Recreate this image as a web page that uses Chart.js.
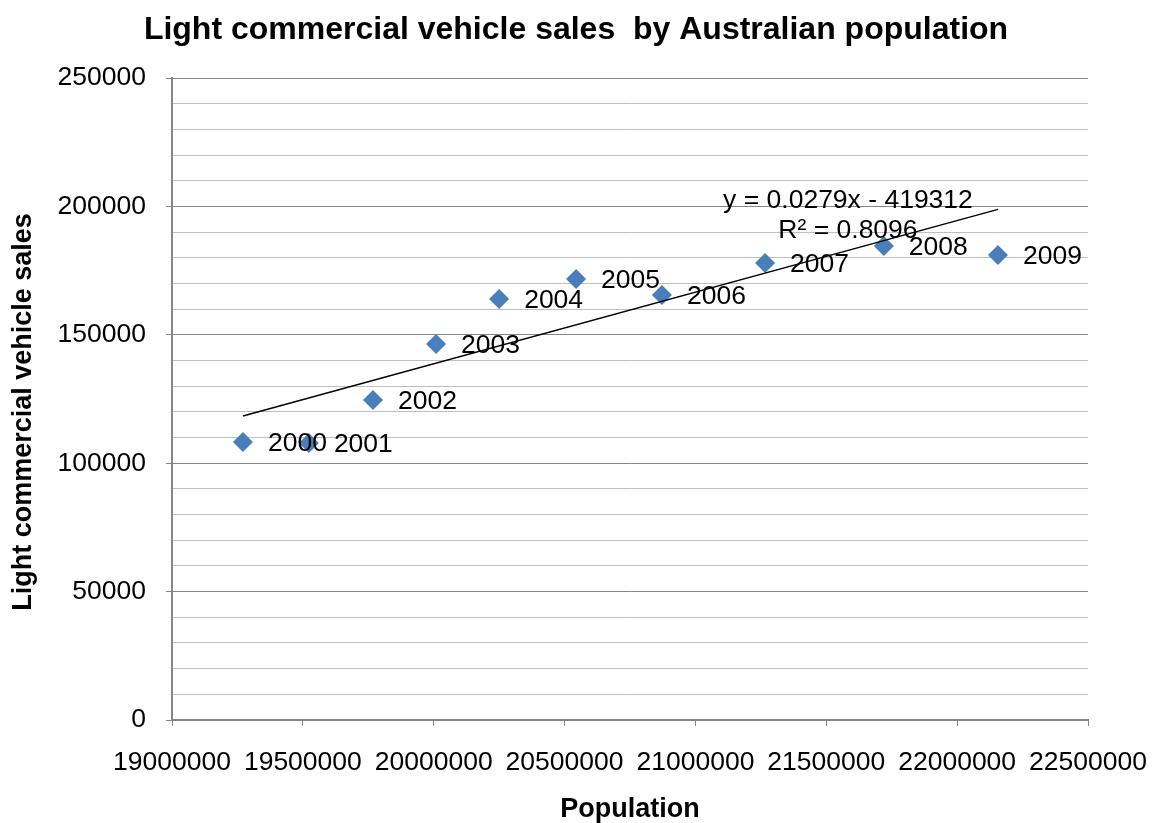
<!DOCTYPE html>
<html>
<head>
<meta charset="utf-8">
<title>Light commercial vehicle sales by Australian population</title>
<script src="https://cdn.jsdelivr.net/npm/chart.js@4.4.1/dist/chart.umd.min.js"></script>
<style>
  html, body { margin: 0; padding: 0; background: #ffffff; }
  #wrap { width: 1153px; height: 823px; }
</style>
</head>
<body>
<div id="wrap"><canvas id="chart" width="1153" height="823"></canvas></div>
<script>
// Year of each observation
const years = ['2000', '2001', '2002', '2003', '2004', '2005', '2006', '2007', '2008', '2009'];
// Australian population (x)
const population = [19271000, 19523000, 19768000, 20009000, 20250000, 20544000, 20872000, 21266000, 21720000, 22156000];
// Light commercial vehicle sales (y)
const lcvSales = [108300, 107900, 124600, 146400, 163900, 171700, 165500, 178000, 184600, 181100];

// Linear trend line as stated in its label
const trendSlope = 0.0279;
const trendIntercept = -419312;
const trendR2 = '0.8096';

// Axis ranges and steps
const xMin = 19000000, xMax = 22500000, xStep = 500000;
const yMin = 0, yMax = 250000, yMajor = 50000, yMinor = 10000;

const FONT = '"Liberation Sans", Arial, sans-serif';
const TEXT_SIZE = 26.5;

const trendX = [Math.min(...population), Math.max(...population)];
const trendPoints = trendX.map(x => ({ x: x, y: trendSlope * x + trendIntercept }));
const scatterPoints = population.map((p, i) => ({ x: p, y: lcvSales[i] }));

const majorGrid = '#868686';
const minorGrid = '#bfbfbf';

const textPlugin = {
  id: 'chartTexts',
  afterDatasetsDraw(chart) {
    const ctx = chart.ctx;
    const meta = chart.getDatasetMeta(1);
    ctx.save();
    ctx.fillStyle = '#000000';
    ctx.font = TEXT_SIZE + 'px ' + FONT;
    ctx.textAlign = 'left';
    ctx.textBaseline = 'middle';
    meta.data.forEach((pt, i) => {
      ctx.fillText(years[i], pt.x + 25, pt.y + 2);
    });

    // Trend line equation near the right end of the line
    const xs = chart.scales.x, ys = chart.scales.y;
    const ex = xs.getPixelForValue(trendPoints[1].x);
    const ey = ys.getPixelForValue(trendPoints[1].y);
    ctx.textAlign = 'center';
    const sign = trendIntercept < 0 ? ' - ' : ' + ';
    ctx.fillText('y = ' + trendSlope + 'x' + sign + Math.abs(trendIntercept), ex - 150, ey - 9);
    ctx.fillText('R\u00B2 = ' + trendR2, ex - 150, ey + 21);
    ctx.restore();
  },
  afterDraw(chart) {
    const ctx = chart.ctx;
    const area = chart.chartArea;
    ctx.save();
    ctx.fillStyle = '#000000';
    ctx.font = 'bold 32px ' + FONT;
    ctx.textAlign = 'center';
    ctx.textBaseline = 'middle';
    ctx.fillText('Light commercial vehicle sales  by Australian population', 576, 30);

    // Vertical axis title
    ctx.font = 'bold 27px ' + FONT;
    ctx.translate(24, (area.top + area.bottom) / 2 + 13);
    ctx.rotate(-Math.PI / 2);
    ctx.fillText('Light commercial vehicle sales', 0, 0);
    ctx.restore();
  }
};

new Chart(document.getElementById('chart'), {
  type: 'scatter',
  data: {
    datasets: [
      {
        label: 'Linear trend',
        data: trendPoints,
        showLine: true,
        borderColor: '#000000',
        borderWidth: 1.5,
        pointRadius: 0,
        pointHoverRadius: 0,
        fill: false,
        order: 0
      },
      {
        label: 'Light commercial vehicle sales',
        data: scatterPoints,
        pointStyle: 'rectRot',
        pointRadius: 10,
        pointHoverRadius: 10,
        backgroundColor: '#4a7ebb',
        borderColor: '#4a7ebb',
        borderWidth: 0,
        order: 1
      }
    ]
  },
  options: {
    responsive: false,
    animation: false,
    events: [],
    layout: { padding: { top: 78, right: 65, left: 0, bottom: 0 } },
    plugins: {
      legend: { display: false },
      tooltip: { enabled: false },
      title: { display: false }
    },
    scales: {
      x: {
        type: 'linear',
        min: xMin,
        max: xMax,
        afterFit(scale) {
          scale.height = 103;
          scale.paddingLeft = 0;
          scale.paddingRight = 0;
        },
        afterBuildTicks(scale) {
          const t = [];
          for (let v = xMin; v <= xMax; v += xStep) t.push({ value: v });
          scale.ticks = t;
        },
        ticks: {
          autoSkip: false,
          maxRotation: 0,
          minRotation: 0,
          padding: 21,
          color: '#000000',
          font: { family: FONT, size: TEXT_SIZE },
          callback: v => String(v)
        },
        grid: {
          drawOnChartArea: false,
          drawTicks: true,
          tickLength: 6,
          tickColor: majorGrid,
          tickWidth: 1
        },
        border: { display: true, color: majorGrid, width: 2 },
        title: {
          display: true,
          text: 'Population',
          color: '#000000',
          font: { family: FONT, size: 27, weight: 'bold', lineHeight: 1 },
          padding: { top: 0, bottom: 0 }
        }
      },
      y: {
        type: 'linear',
        min: yMin,
        max: yMax,
        afterFit(scale) {
          scale.width = 172;
          scale.paddingTop = 0;
          scale.paddingBottom = 0;
        },
        afterBuildTicks(scale) {
          const t = [];
          for (let v = yMin; v <= yMax; v += yMinor) t.push({ value: v });
          scale.ticks = t;
        },
        ticks: {
          autoSkip: false,
          padding: 20,
          color: '#000000',
          font: { family: FONT, size: TEXT_SIZE },
          callback: v => (v % yMajor === 0 ? String(v) : '')
        },
        grid: {
          drawOnChartArea: true,
          drawTicks: true,
          tickLength: 6,
          lineWidth: 1,
          color: c => (c.tick && c.tick.value % yMajor === 0 ? majorGrid : minorGrid),
          tickColor: c => (c.tick && c.tick.value % yMajor === 0 ? majorGrid : 'rgba(0,0,0,0)')
        },
        border: { display: true, color: majorGrid, width: 2 },
        title: { display: false }
      }
    }
  },
  plugins: [textPlugin]
});
</script>
</body>
</html>
